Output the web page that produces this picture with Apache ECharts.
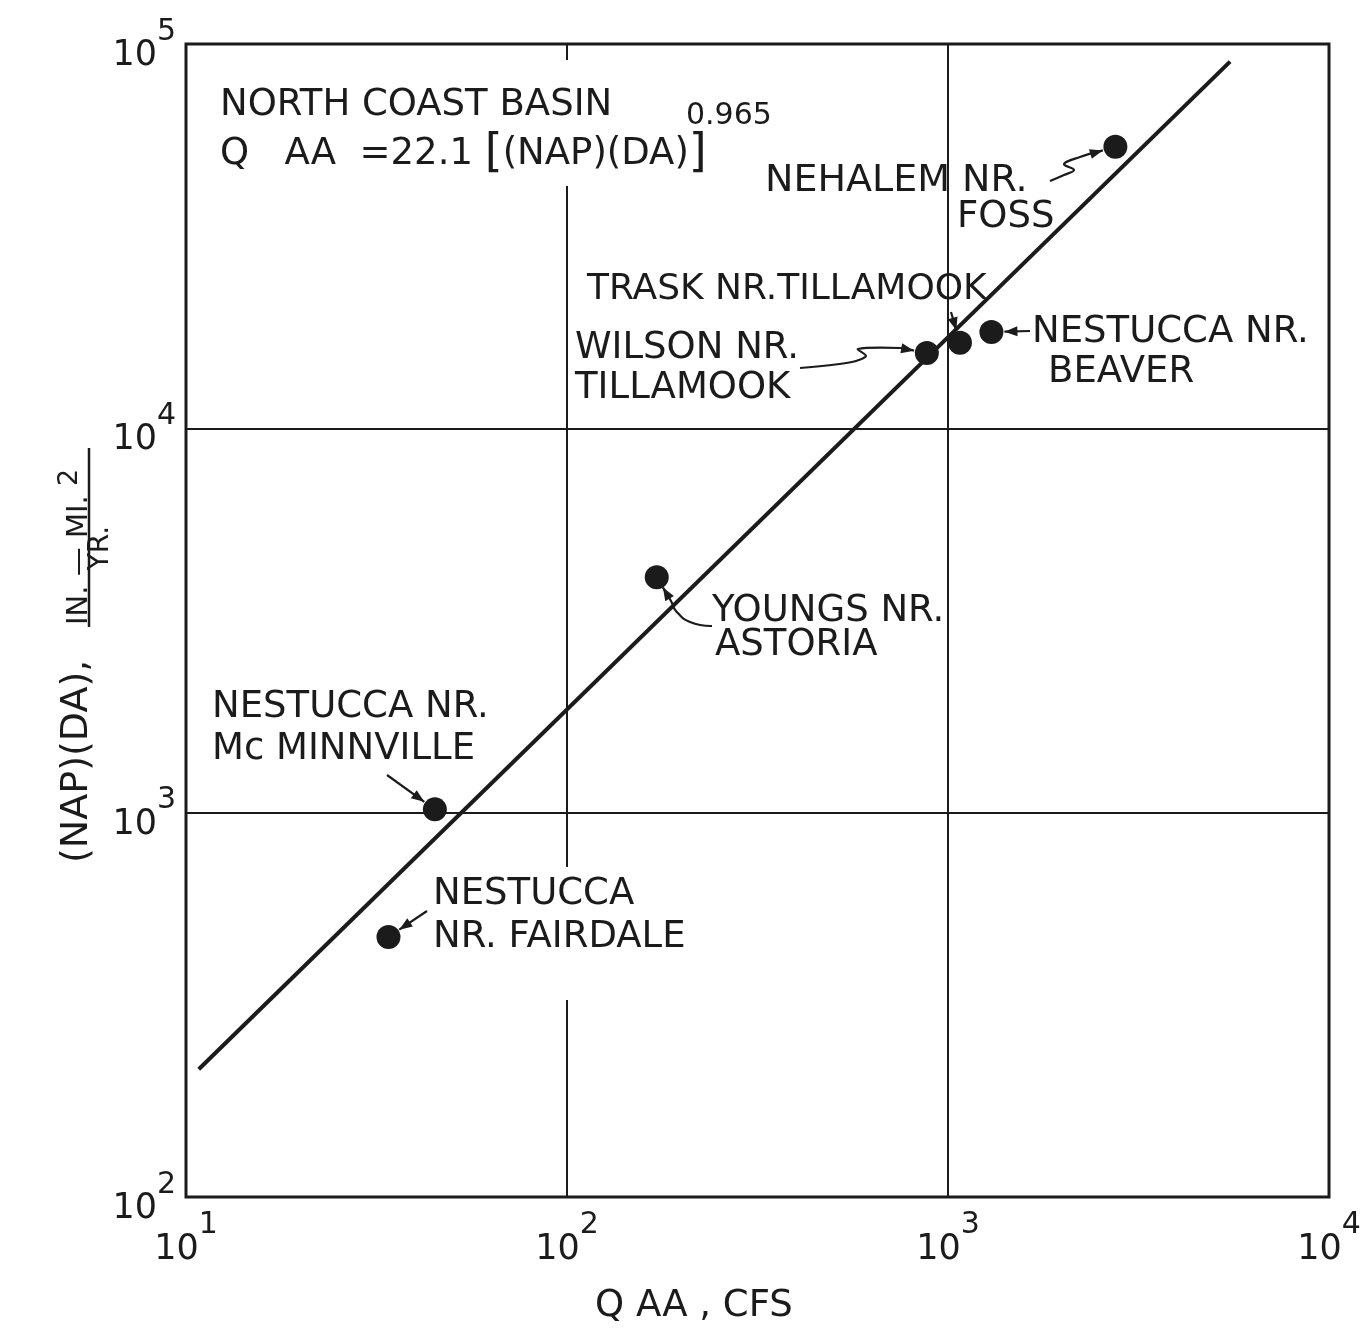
<!DOCTYPE html>
<html><head><meta charset="utf-8">
<script src="https://cdn.jsdelivr.net/npm/echarts@6.0.0/dist/echarts.min.js"></script>
<style>html,body{margin:0;padding:0;background:#fff}#c{width:1372px;height:1329px}</style>
</head><body><div id="c"></div>
<script>
// ---- data ----
const stationNames = ['NEHALEM NR. FOSS','NESTUCCA NR. BEAVER','TRASK NR. TILLAMOOK','WILSON NR. TILLAMOOK','YOUNGS NR. ASTORIA','NESTUCCA NR. McMINNVILLE','NESTUCCA NR. FAIRDALE'];
const qaaCfs = [2750, 1300, 1075, 880, 172, 45, 34];
const napDa  = [54000, 17800, 16700, 15700, 4100, 1020, 475];
const fitQaa   = [10.8, 5500];
const fitNapDa = [215, 90000];
const xTickValues = [10, 100, 1000, 10000];
const xTickExps   = ['1','2','3','4'];
const yTickValues = [100, 1000, 10000, 100000];
const yTickExps   = ['2','3','4','5'];

const FONT = 'DejaVu Sans';
const INK = '#1b1b1b';
const chart = echarts.init(document.getElementById('c'), null, {renderer:'canvas'});

function tickLabel(values, exps){
  return v => {
    const i = values.findIndex(t => Math.abs(Math.log10(t) - Math.log10(v)) < 1e-6);
    return i < 0 ? '' : '{b|10}{s|' + exps[i] + '}';
  };
}
const rich = {
  b:{fontFamily:FONT, fontSize:35, color:INK, padding:[24,0,0,0]},
  s:{fontFamily:FONT, fontSize:30, color:INK, padding:[0,0,24,0]}
};

chart.setOption({
  animation:false,
  backgroundColor:'#ffffff',
  grid:{left:186, top:44, width:1143, height:1153, show:true, borderColor:INK, borderWidth:3, backgroundColor:'transparent'},
  xAxis:{type:'log', logBase:10, min:10, max:10000,
    axisLine:{show:false}, axisTick:{show:false},
    splitLine:{show:true, lineStyle:{color:INK, width:2}},
    axisLabel:{margin:11, formatter:tickLabel(xTickValues, xTickExps), rich:rich}},
  yAxis:{type:'log', logBase:10, min:100, max:100000,
    axisLine:{show:false}, axisTick:{show:false},
    splitLine:{show:true, lineStyle:{color:INK, width:2}},
    axisLabel:{margin:10, formatter:tickLabel(yTickValues, yTickExps), rich:rich}},
  series:[
    {type:'line', data:fitQaa.map((x,i)=>[x, fitNapDa[i]]), symbol:'none', lineStyle:{color:INK, width:4}, z:3},
    {type:'scatter', name:'stations', data:qaaCfs.map((x,i)=>({name:stationNames[i], value:[x, napDa[i]]})), symbolSize:24, itemStyle:{color:INK, opacity:1}, z:4}
  ]
});

const P = qaaCfs.map((x,i)=>chart.convertToPixel({gridIndex:0}, [x, napDa[i]]));

function toward(p, from, r){
  const dx=from[0]-p[0], dy=from[1]-p[1], L=Math.hypot(dx,dy);
  return [p[0]+dx/L*r, p[1]+dy/L*r];
}
function arrowHead(tip, from, len, half){
  len = len||13; half = half||5;
  const dx=tip[0]-from[0], dy=tip[1]-from[1], L=Math.hypot(dx,dy), ux=dx/L, uy=dy/L;
  const bx=tip[0]-ux*len, by=tip[1]-uy*len;
  return {type:'polygon', z:5, shape:{points:[tip,[bx-uy*half, by+ux*half],[bx+uy*half, by-ux*half]]}, style:{fill:INK}};
}
function leader(path, idx, r, smooth){
  const last = path[path.length-1];
  const tip = toward(P[idx], last, r||13);
  return [
    {type:'polyline', z:5, shape:{points:path.concat([tip]), smooth:smooth||0}, style:{stroke:INK, lineWidth:2.2, fill:null}},
    arrowHead(tip, last)
  ];
}
function txt(s, x, y, size, extra){
  return {type:'text', x:x, y:y+2, z:6, style:Object.assign({text:s, fontFamily:FONT, fontSize:size||37, fill:INK, align:'left', verticalAlign:'middle'}, extra||{})};
}

const g = [];
// white patches where the original drawing interrupts the 10^2 grid line
g.push({type:'rect', z:1, shape:{x:561, y:60, width:14, height:126}, style:{fill:'#fff'}});
g.push({type:'rect', z:1, shape:{x:561, y:867, width:14, height:133}, style:{fill:'#fff'}});

// equation block
g.push(txt('NORTH COAST BASIN', 220, 103, 37));
g.push({type:'text', x:220, y:154, z:6, style:{text:'{a|Q   AA  =22.1 }{k|[}{a|(NAP)(DA)}{k|]}', fontFamily:FONT, fill:INK, align:'left', verticalAlign:'middle',
  rich:{a:{fontFamily:FONT, fontSize:37, fill:INK}, k:{fontFamily:FONT, fontSize:46, fill:INK}}}});
g.push(txt('0.965', 686, 114, 30));

// station labels
g.push(txt('NEHALEM NR.', 765, 179, 38));
g.push(txt('FOSS', 957, 215, 37));
g.push(txt('TRASK NR.TILLAMOOK', 587, 288, 36));
g.push(txt('WILSON NR.', 575, 346, 37));
g.push(txt('TILLAMOOK', 575, 386, 37));
g.push(txt('NESTUCCA NR.', 1032, 330, 37));
g.push(txt('BEAVER', 1048, 370, 37));
g.push(txt('YOUNGS NR.', 712, 609, 37));
g.push(txt('ASTORIA', 715, 643, 37));
g.push(txt('NESTUCCA NR.', 212, 705, 37));
g.push(txt('Mc MINNVILLE', 212, 747, 37));
g.push(txt('NESTUCCA', 433, 892, 37));
g.push(txt('NR. FAIRDALE', 433, 935, 37));

// leaders
g.push(...leader([[1050,181],[1064,175],[1074,170],[1064,164],[1080,157]], 0, 13, 0.4));
g.push(...leader([[1030,331]], 1, 13));
g.push(...leader([[951,312]], 2, 13));
g.push(...leader([[800,368],[852,362],[866,356],[858,349],[900,348]], 3, 13, 0.3));
g.push(...leader([[712,626],[690,622],[676,611],[671,601]], 4, 12, 0.5));
g.push(...leader([[387,775]], 5, 13));
g.push(...leader([[427,911]], 6, 13));

// x axis title
g.push(txt('Q AA , CFS', 595, 1304, 37));

// y axis title (rotated, reads upward)
g.push({type:'text', x:77, y:863, rotation:Math.PI/2, z:6, style:{text:'(NAP)(DA),', fontFamily:FONT, fontSize:38, fill:INK, align:'left', verticalAlign:'middle'}});
g.push({type:'line', z:6, shape:{x1:89, y1:627, x2:89, y2:448}, style:{stroke:INK, lineWidth:2.5}});
g.push({type:'text', x:79, y:625, rotation:Math.PI/2, z:6, style:{text:'IN. \u2014 MI.', fontFamily:FONT, fontSize:29, fill:INK, align:'left', verticalAlign:'middle'}});
g.push({type:'text', x:70, y:486, rotation:Math.PI/2, z:6, style:{text:'2', fontFamily:FONT, fontSize:27, fill:INK, align:'left', verticalAlign:'middle'}});
g.push({type:'text', x:101, y:548, rotation:Math.PI/2, z:6, style:{text:'YR.', fontFamily:FONT, fontSize:28, fill:INK, align:'center', verticalAlign:'middle'}});

chart.setOption({graphic:{elements:g}});
</script></body></html>
